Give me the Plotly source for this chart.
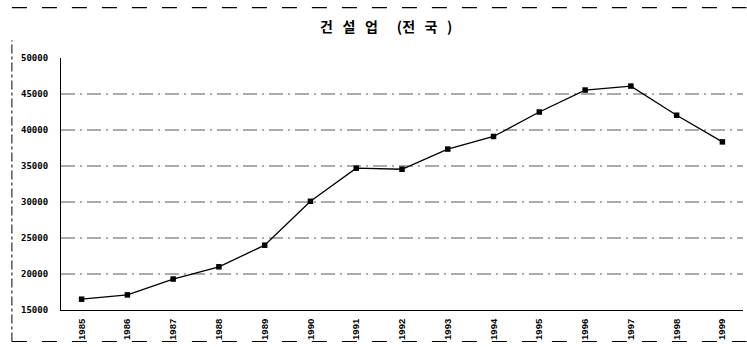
import plotly.graph_objects as go

# Construction employment, nationwide (1985-1999)
years = ["1985", "1986", "1987", "1988", "1989", "1990", "1991", "1992",
         "1993", "1994", "1995", "1996", "1997", "1998", "1999"]
values = [16500, 17100, 19300, 21000, 24000, 30100, 34700, 34550,
          37350, 39100, 42500, 45550, 46100, 42050, 38350]
y_ticks = [15000, 20000, 25000, 30000, 35000, 40000, 45000, 50000]
title_text = "건 설 업  (전 국 )"

fig = go.Figure()
fig.add_trace(go.Scatter(
    x=list(range(len(years))), y=values,
    mode="lines+markers",
    line=dict(color="black", width=1.3),
    marker=dict(color="black", size=5.5, symbol="square"),
    showlegend=False,
    hoverinfo="skip",
))

# dash-dot gridlines (the 15000 level coincides with the x axis)
for v in y_ticks[1:-1]:
    fig.add_shape(type="line", xref="paper", yref="y", x0=0, x1=1, y0=v, y1=v,
                  line=dict(color="#444", width=0.9, dash="14px,5px,2px,5px"),
                  layer="below")

# outer frame lines around the chart
frame = dict(color="black", width=1.2, dash="longdash")
fig.add_shape(type="line", xref="paper", yref="paper",
              x0=-0.072, x1=1.005, y0=1.2, y1=1.2, line=frame)
fig.add_shape(type="line", xref="paper", yref="paper",
              x0=-0.072, x1=1.005, y0=-0.125, y1=-0.125, line=frame)
fig.add_shape(type="line", xref="paper", yref="paper",
              x0=-0.072, x1=-0.072, y0=-0.125, y1=1.07,
              line=dict(color="black", width=1, dash="dashdot"))

title_html = "<b>" + title_text.replace(" ", "&nbsp;&nbsp;&nbsp;") + "</b>"

fig.update_layout(
    width=747, height=347,
    margin=dict(l=61, r=4, t=58, b=37),
    paper_bgcolor="white", plot_bgcolor="white",
    font=dict(family="Liberation Sans, Arial, sans-serif", color="black"),
    title=dict(text=title_html, x=0.517, xanchor="center",
               y=0.922, yanchor="middle",
               font=dict(family="Noto Sans CJK KR, sans-serif", size=14, color="black")),
    xaxis=dict(
        range=[-0.45, 14.45],
        tickmode="array", tickvals=list(range(len(years))),
        ticktext=["<b>" + y + "</b>" for y in years],
        tickangle=-90, tickfont=dict(size=9.5, color="black"),
        showgrid=False, zeroline=False,
        showline=True, linecolor="black", linewidth=1,
        ticks="", ticklabelstandoff=4,
    ),
    yaxis=dict(
        range=[15000, 50000],
        tickmode="array", tickvals=y_ticks,
        ticktext=["<b>" + str(v) + "</b>" for v in y_ticks],
        tickfont=dict(size=9, color="black", family="DejaVu Sans Mono, monospace"),
        showgrid=False, zeroline=False,
        showline=True, linecolor="black", linewidth=1.2,
        ticks="", ticklabelstandoff=10,
    ),
)

fig.write_html("out.html")
